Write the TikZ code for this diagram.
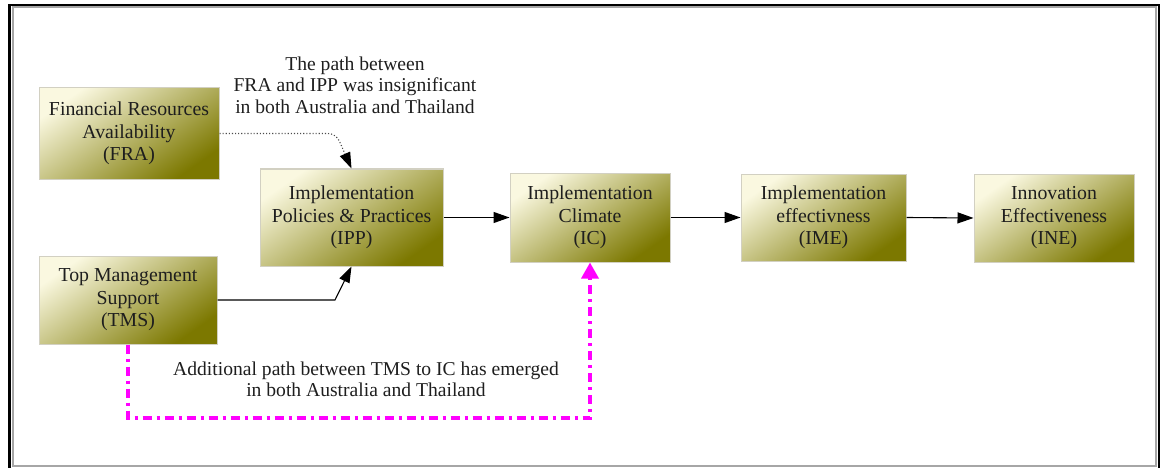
\documentclass[tikz,border=0pt]{standalone}
\usepackage{fontspec}
\setmainfont{Liberation Serif}
\usetikzlibrary{arrows.meta,calc}
\definecolor{boxlight}{HTML}{FAF8E0}
\definecolor{boxdark}{HTML}{7C7800}
\definecolor{boxedge}{HTML}{D2D0C2}
\definecolor{txt}{HTML}{1E1E1E}
\definecolor{magline}{HTML}{FF00FF}
\tikzset{
  factor/.style={draw=boxedge, line width=1pt, shading=axis, top color=boxlight, bottom color=boxdark, shading angle=35,
    align=center, text=txt, font=\fontsize{19.8}{22.5}\selectfont, inner sep=0pt},
  note/.style={align=center, text=txt, font=\fontsize{19.6}{21.5}\selectfont, inner sep=0pt},
  link/.style={line width=1.1pt, -{Triangle[length=16pt,width=11pt]}},
  weaklink/.style={line width=1.1pt, black!70, dotted, -{Triangle[length=16pt,width=11pt,fill=black,color=black]}, rounded corners=8pt},
  newlink/.style={line width=3.4pt, magline, dash pattern=on 9pt off 5pt on 3pt off 5pt, -{Triangle[length=16pt,width=17pt]}}
}
\begin{document}
\begin{tikzpicture}[x=1pt,y=-1pt]
\useasboundingbox (0,0) rectangle (1162,468);
\draw[black, line width=2.2pt] (9.5,5) rectangle (1159,470);
\draw[gray!70, line width=2pt] (12.5,7.5) rectangle (1156,466);

\node[factor, minimum width=180pt, minimum height=91pt] (FRA) at (129,133.5) {Financial Resources\\Availability\\(FRA)};
\node[factor, minimum width=183pt, minimum height=97pt] (IPP) at (351.5,217.5) {Implementation\\Policies \& Practices\\(IPP)};
\node[factor, minimum width=178pt, minimum height=88pt] (TMS) at (128,300) {Top Management\\Support\\(TMS)};
\node[factor, minimum width=160pt, minimum height=89pt] (IC) at (590,217.5) {Implementation\\Climate\\(IC)};
\node[factor, minimum width=165pt, minimum height=87pt] (IME) at (823.5,217.5) {Implementation\\effectivness\\(IME)};
\node[factor, minimum width=160pt, minimum height=88pt] (INE) at (1054,218) {Innovation\\Effectiveness\\(INE)};

\node[note] (n1) at (355,85) {The path between\\FRA and IPP was insignificant\\in both Australia and Thailand};
\node[note] (n2) at (366,379.5) {Additional path between TMS to IC has emerged\\in both Australia and Thailand};

\coordinate (fbend) at (336,133.5);
\coordinate (tbend) at (335,300);
\coordinate (mbend) at (590,418);

\draw[weaklink] (FRA.east) -- (fbend) -- (IPP.north);
\draw[link] (TMS.east) -- (tbend) -- (IPP.south);
\draw[link] (IPP.east) -- (IC.west);
\draw[link] (IC.east) -- (IME.west);
\draw[link] (IME.east) -- (INE.west);
\draw[newlink] (TMS.south) |- (mbend) -- (IC.south);
\end{tikzpicture}
\end{document}
